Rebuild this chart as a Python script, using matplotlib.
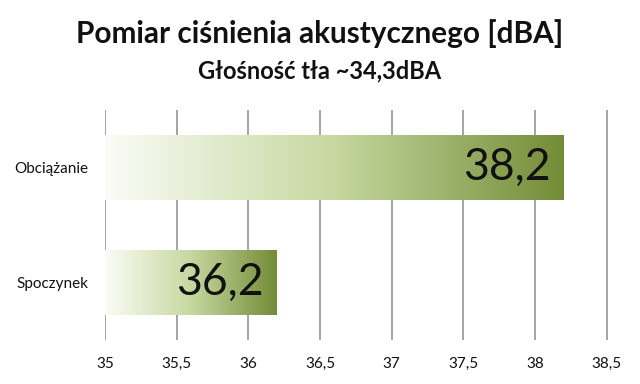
import numpy as np
import matplotlib
matplotlib.use('Agg')
import matplotlib.pyplot as plt
from matplotlib.colors import LinearSegmentedColormap

plt.rcParams['font.family'] = ['Lato', 'DejaVu Sans']

# dane
categories = ['Spoczynek', 'Obciążanie']
values = [36.2, 38.2]
value_labels = ['36,2', '38,2']
ticks = [35, 35.5, 36, 36.5, 37, 37.5, 38, 38.5]
tick_labels = ['35', '35,5', '36', '36,5', '37', '37,5', '38', '38,5']
title = 'Pomiar ciśnienia akustycznego [dBA]'
subtitle = 'Głośność tła ~34,3dBA'

W, H = 640, 384
fig = plt.figure(figsize=(6.4, 3.84), dpi=100)
fig.patch.set_facecolor('white')

# osie: x 35 -> 105px, 143.3 px na jednostke
x0 = 35.0
px_per_unit = 143.3
left_px, right_px = 105, 635
top_px, bottom_px = 110, 340
ax = fig.add_axes([left_px / W, 1 - bottom_px / H,
                   (right_px - left_px) / W, (bottom_px - top_px) / H])

cmap = LinearSegmentedColormap.from_list(
    'olive', [(0.0, '#fbfcf6'), (0.5, '#c6d8a0'), (1.0, '#738c37')])
grad = np.linspace(0, 1, 256).reshape(1, -1)

bar_h = 0.56
ypos = np.arange(len(categories))
bars = ax.barh(ypos, [v - x0 for v in values], left=x0, height=bar_h,
               color='none', edgecolor='none', zorder=2)
for b, v, y in zip(bars, values, ypos):
    im = ax.imshow(grad, cmap=cmap, aspect='auto', interpolation='bicubic',
                   extent=[x0, v, y - bar_h / 2, y + bar_h / 2], zorder=2)
    im.set_clip_path(b)

for v, y, lab in zip(values, ypos, value_labels):
    ax.annotate(lab, xy=(v, y), xytext=(-9.5, 0), textcoords='offset points',
                ha='right', va='center', fontsize=32, color='#111111', zorder=3)

ax.set_xlim(x0, x0 + (right_px - left_px) / px_per_unit)
ax.set_ylim(-0.5, 1.5)
ax.set_xticks(ticks)
ax.set_xticklabels(tick_labels)
ax.set_yticks(ypos)
ax.set_yticklabels(categories)
ax.tick_params(axis='both', length=0, labelsize=11, colors='#111111')
ax.tick_params(axis='x', pad=12)
ax.tick_params(axis='y', pad=12)
ax.grid(axis='x', color='#8c8c8c', linewidth=1.1)
ax.set_axisbelow(True)
for s in ax.spines.values():
    s.set_visible(False)

fig.text(0.5, 1 - 43 / H, title, ha='center', va='baseline',
         fontsize=21.4, fontweight='bold', color='#111111')
fig.text(0.5, 1 - 78 / H, subtitle, ha='center', va='baseline',
         fontsize=17, fontweight='bold', color='#111111')

fig.savefig('out.png', dpi=100, facecolor='white')
